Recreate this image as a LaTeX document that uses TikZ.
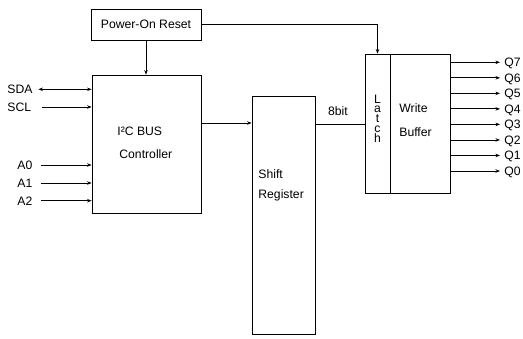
\documentclass[tikz,border=0pt]{standalone}
\usepackage{fontspec}
\setmainfont{Liberation Sans}
\usetikzlibrary{arrows.meta}

\begin{document}
\begin{tikzpicture}[x=1pt, y=-1pt, line width=0.8pt,
    font=\fontsize{12.2}{14}\selectfont,
    block/.style={draw, rectangle, inner sep=0pt},
    txt/.style={inner sep=0pt, anchor=base west},
    sig/.style={anchor=west, inner sep=0pt, text height=8.7pt, text depth=0pt},
    qout/.style={anchor=west, inner xsep=4pt, inner ysep=0pt, text height=8.7pt, text depth=0pt},
    arr/.style={-{Stealth[length=4.5pt,width=3.5pt]}}]
    \useasboundingbox (0,0) rectangle (523,338);
    % Nodes
    \node[block, minimum width=110, minimum height=31] (por) at (146,24.5) {Power-On Reset};
    \node[block, minimum width=109, minimum height=138] (ctrl) at (146.5,144) {};
    \node[block, minimum width=63, minimum height=238] (shreg) at (283.5,215) {};
    \node[block, minimum width=25, minimum height=139] (latch) at (377.5,123.5) {};
    \node[block, minimum width=60, minimum height=139, anchor=west] (wbuf) at (latch.east) {};
    % Texts
    \node[txt] (ctrlA) at (117,135) {I²C BUS};
    \node[txt] (ctrlB) at (119,158.3) {Controller};
    \node[txt] (shA) at (258,178) {Shift};
    \node[txt] (shB) at (258,198.5) {Register};
    \node[txt] (wbA) at (399,112.3) {Write};
    \node[txt] (wbB) at (399,136) {Buffer};
    \node[inner sep=0pt, align=center, font=\fontsize{12.2}{9.75}\selectfont]
        (latchtxt) at (377.5,118.5) {L\\a\\t\\c\\h};
    \node[inner sep=0pt, anchor=base] (bits) at (338,115.7) {8bit};
    % Inputs
    \node[sig] (sda) at (7,89.3) {SDA};
    \node[sig] (scl) at (7,107) {SCL};
    \foreach \i/\y in {0/165,1/183,2/200.7}
        \node[sig] (a\i) at (17,\y) {A\i};
    % Outputs
    \foreach \i in {0,...,7}
        \node[qout] (q\i) at (500,{171-15.53*\i}) {Q\i};
    % Edges
    \draw[{Stealth[length=4.5pt,width=3.5pt]}-{Stealth[length=4.5pt,width=3.5pt]}]
        ([xshift=5.5pt]sda.east) -- (sda -| ctrl.west);
    \foreach \n/\s in {scl/10.7, a0/8.3, a1/8.3, a2/8.3}
        \draw[arr] ([xshift=\s pt]\n.east) -- (\n -| ctrl.west);
    \draw[arr] (por) -- (por |- ctrl.north);
    \draw[arr] (por.east) -| (latch.north);
    \draw[arr] ([yshift=21pt]ctrl.east) coordinate (cout) -- (cout -| shreg.west);
    \draw ([yshift=91pt]shreg.east) coordinate (sout) -- (sout -| latch.west);
    \foreach \i in {0,...,7}
        \draw[arr] (wbuf.east |- q\i) -- (q\i.west);
\end{tikzpicture}
\end{document}
